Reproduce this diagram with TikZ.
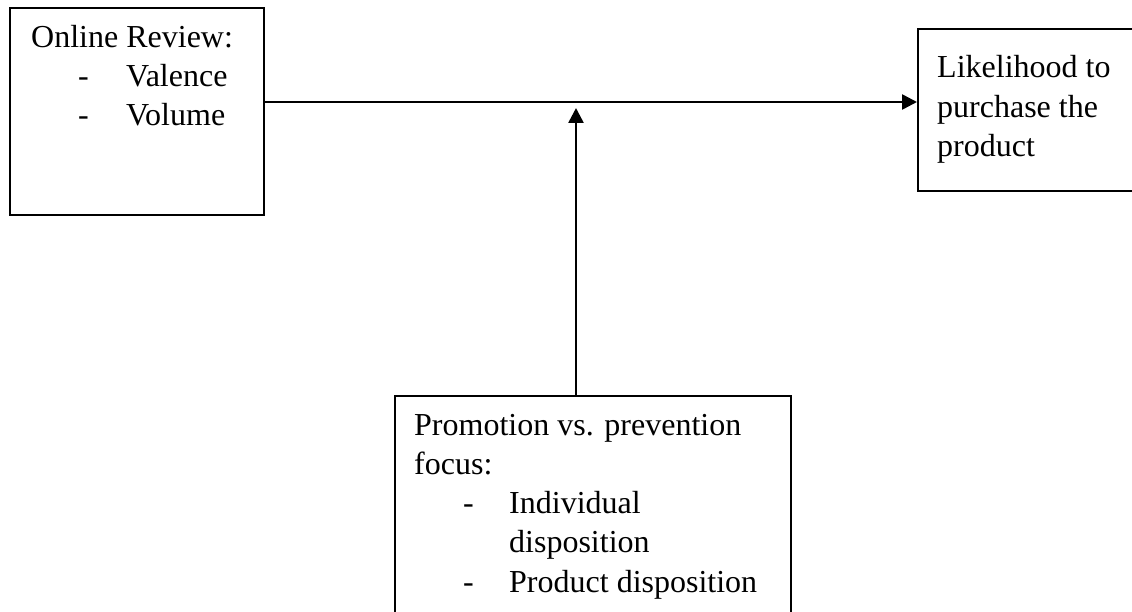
\documentclass[tikz,border=0pt]{standalone}
\usepackage{fontspec}
\setmainfont{Liberation Serif}
\usetikzlibrary{arrows.meta}
\begin{document}
\begin{tikzpicture}[x=1pt,y=-1pt,
  box/.style={draw=black,line width=2pt,inner sep=0pt,anchor=north west},
  txt/.style={anchor=base west,inner sep=0pt,font=\fontsize{32}{39}\selectfont},
  arr/.style={line width=2.6pt,-{Triangle[length=15pt,width=15pt]}}]
\useasboundingbox (0,0) rectangle (1132,612);
\clip (0,0) rectangle (1132,612);
% boxes
\node[box,minimum width=254pt,minimum height=207pt] (lbox) at (9,7) {};
\node[box,minimum width=240pt,minimum height=162pt] (rbox) at (917,28) {};
\node[box,minimum width=396pt,minimum height=240pt] (bbox) at (394,395) {};
% left text
\node[txt] (l1) at (31,48) {Online Review:};
\node[txt] (l2d) at (78,87) {-};
\node[txt] (l2) at (126,87) {Valence};
\node[txt] (l3d) at (78,126) {-};
\node[txt] (l3) at (126,126) {Volume};
% right text
\node[txt] (r1) at (937,78) {Likelihood to};
\node[txt] (r2) at (937,118) {purchase the};
\node[txt] (r3) at (937,157) {product};
% bottom text
\node[txt] (b1) at (414,435) {Promotion vs. prevention};
\node[txt] (b2) at (414,474) {focus:};
\node[txt] (b3d) at (463,513) {-};
\node[txt] (b3) at (509,513) {Individual};
\node[txt] (b4) at (509,552) {disposition};
\node[txt] (b5d) at (463,592) {-};
\node[txt] (b5) at (509,592) {Product disposition};
% connectors
\coordinate (hy) at (0,102);
\coordinate (vtip) at (576,108);
\draw[arr] (lbox.east |- hy) -- (rbox.west |- hy);
\draw[arr] (bbox.north -| vtip) -- (vtip);
\end{tikzpicture}
\end{document}
